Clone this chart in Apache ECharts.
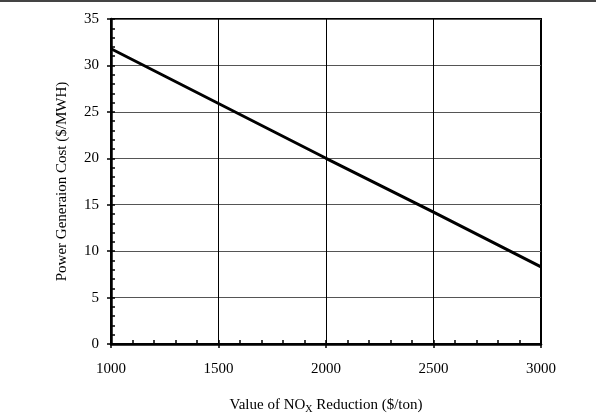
<!DOCTYPE html>
<html><head><meta charset="utf-8">
<script src="https://cdn.jsdelivr.net/npm/echarts@6/dist/echarts.min.js"></script>
<style>html,body{margin:0;padding:0;background:#fff}#c{width:596px;height:415px}</style>
</head><body><div id="c"></div>
<script>
var xValues = [1000, 1500, 2000, 2500, 3000];
var costValues = [31.8, 25.9, 20.0, 14.2, 8.3];
var xTitle = 'Value of NO';
var yTitle = 'Power Generaion Cost ($/MWH)';

var font = 'Liberation Serif';
var chart = echarts.init(document.getElementById('c'), null, {renderer: 'canvas'});
var data = xValues.map(function (x, i) { return [x, costValues[i]]; });
chart.setOption({
  animation: false,
  backgroundColor: '#fff',
  textStyle: {fontFamily: font},
  graphic: [{type: 'line', shape: {x1: 0, y1: 1, x2: 596, y2: 1}, style: {stroke: '#444', lineWidth: 2}}],
  grid: {left: 111, right: 55, top: 19, bottom: 71, show: true, borderColor: '#000', borderWidth: 2, backgroundColor: 'transparent', outerBoundsMode: 'none'},
  xAxis: [{
    type: 'value', min: 1000, max: 3000, interval: 500,
    name: '{a|' + xTitle + '}{s|X}{a| Reduction ($/ton)}',
    nameLocation: 'middle', nameGap: 52,
    nameTextStyle: {rich: {a: {fontFamily: font, fontSize: 15, color: '#000'}, s: {fontFamily: font, fontSize: 10, color: '#000', verticalAlign: 'bottom', padding: [8, 0, 0, 0]}}},
    axisLine: {lineStyle: {color: '#000', width: 2.5}},
    axisTick: {show: true, inside: false, length: 4, lineStyle: {color: '#000', width: 1.5}},
    axisLabel: {fontFamily: font, fontSize: 15, color: '#000', margin: 18, formatter: function (v) { return String(v); }},
    splitLine: {show: true, lineStyle: {color: '#000', width: 1}}
  }, {
    type: 'value', min: 1000, max: 3000, interval: 100, position: 'bottom',
    axisLine: {show: false},
    axisTick: {show: true, inside: true, length: 4, lineStyle: {color: '#000', width: 1.5}},
    axisLabel: {show: false}, splitLine: {show: false}
  }],
  yAxis: [{
    type: 'value', min: 0, max: 35, interval: 5,
    name: yTitle, nameLocation: 'middle', nameGap: 41, nameRotate: 90,
    nameTextStyle: {fontFamily: font, fontSize: 15, color: '#000'},
    axisLine: {lineStyle: {color: '#000', width: 2.5}},
    axisTick: {show: true, inside: false, length: 4, lineStyle: {color: '#000', width: 1.5}},
    axisLabel: {fontFamily: font, fontSize: 15, color: '#000', margin: 12},
    splitLine: {show: true, lineStyle: {color: '#555', width: 1}}
  }, {
    type: 'value', min: 0, max: 35, interval: 1, position: 'left',
    axisLine: {show: false},
    axisTick: {show: true, inside: true, length: 4, lineStyle: {color: '#000', width: 1.5}},
    axisLabel: {show: false}, splitLine: {show: false}
  }],
  series: [{
    type: 'line', xAxisIndex: 0, yAxisIndex: 0, data: data,
    symbol: 'none', lineStyle: {color: '#000', width: 3}
  }]
});
</script></body></html>
